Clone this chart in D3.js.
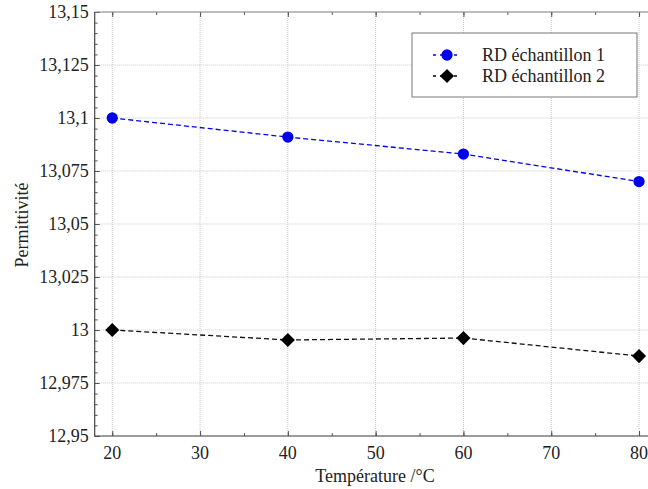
<!DOCTYPE html>
<html><head><meta charset="utf-8">
<script src="https://cdn.jsdelivr.net/npm/d3@7"></script>
<style>body{margin:0;background:#fff}svg{display:block}</style>
</head><body><svg id="c" width="648" height="489"></svg>
<script>
const temps = [20, 40, 60, 80];
const series1 = [13.1, 13.091, 13.083, 13.07];
const series2 = [13.0, 12.9953, 12.9962, 12.9877];
const seriesNames = ["RD échantillon 1", "RD échantillon 2"];
const xTicks = [20, 30, 40, 50, 60, 70, 80];
const yTicks = [12.95, 12.975, 13, 13.025, 13.05, 13.075, 13.1, 13.125, 13.15];
const yTickLabels = ["12,95", "12,975", "13", "13,025", "13,05", "13,075", "13,1", "13,125", "13,15"];

const FONT = "'Liberation Serif', 'Times New Roman', serif";
const svg = d3.select("#c");
const L = 94.7, R = 656.6, T = 12, B = 436;
const x = d3.scaleLinear().domain([18, 82]).range([L, R]);
const y = d3.scaleLinear().domain([12.95, 13.15]).range([B, T]);

const defs = svg.append("defs");
defs.append("clipPath").attr("id", "clip").append("rect").attr("x", L).attr("y", T - 8).attr("width", R - L).attr("height", B - T + 16);

// grid
const g = svg.append("g");
g.selectAll(".gx").data(xTicks).join("line")
  .attr("x1", d => x(d)).attr("x2", d => x(d)).attr("y1", T).attr("y2", B)
  .attr("stroke", "#c8c8c8").attr("stroke-width", 1).attr("stroke-dasharray", "1,1");
g.selectAll(".gy").data(yTicks).join("line")
  .attr("x1", L).attr("x2", R).attr("y1", d => y(d)).attr("y2", d => y(d))
  .attr("stroke", "#c8c8c8").attr("stroke-width", 1).attr("stroke-dasharray", "1,1");

// axes with inward ticks
const xMinor = d3.range(20, 81, 5);
const yMinor = d3.range(0, 41).map(i => 12.95 + i * 0.005);
function ticks(gen, tr, vals, size) {
  const a = svg.append("g").attr("transform", tr).call(gen.tickValues(vals).tickSize(size).tickFormat(""));
  a.select(".domain").remove();
  a.selectAll("line").attr("stroke", "#555");
}
ticks(d3.axisTop(x), `translate(0,${B})`, xMinor, 3);
ticks(d3.axisTop(x), `translate(0,${B})`, xTicks, 5);
ticks(d3.axisBottom(x), `translate(0,${T})`, xMinor, 3);
ticks(d3.axisBottom(x), `translate(0,${T})`, xTicks, 5);
ticks(d3.axisRight(y), `translate(${L},0)`, yMinor, 3);
ticks(d3.axisRight(y), `translate(${L},0)`, yTicks, 5);

// axis frame lines
svg.append("line").attr("x1", L).attr("x2", L).attr("y1", T).attr("y2", B).attr("stroke", "#444").attr("stroke-width", 1.2);
svg.append("line").attr("x1", L).attr("x2", 648).attr("y1", B).attr("y2", B).attr("stroke", "#444").attr("stroke-width", 1.2);
svg.append("line").attr("x1", L).attr("x2", 648).attr("y1", T).attr("y2", T).attr("stroke", "#888").attr("stroke-width", 1);

// tick labels
svg.selectAll(".xl").data(xTicks).join("text").attr("class", "xl")
  .attr("x", d => x(d)).attr("y", B + 23).attr("text-anchor", "middle")
  .attr("font-family", FONT).attr("font-size", 18).attr("fill", "#222").text(d => d);
svg.selectAll(".yl").data(yTicks).join("text").attr("class", "yl")
  .attr("x", L - 6).attr("y", d => y(d) + 6).attr("text-anchor", "end")
  .attr("font-family", FONT).attr("font-size", 18).attr("fill", "#222").text((d, i) => yTickLabels[i]);

// titles
svg.append("text").attr("x", 375).attr("y", 482).attr("text-anchor", "middle")
  .attr("font-family", FONT).attr("font-size", 18).attr("fill", "#222").text("Température /°C");
svg.append("text").attr("transform", "translate(28,225) rotate(-90)").attr("text-anchor", "middle")
  .attr("font-family", FONT).attr("font-size", 18).attr("fill", "#222").text("Permittivité");

// series
const line = d3.line().x(d => x(d[0])).y(d => y(d[1]));
const plot = svg.append("g").attr("clip-path", "url(#clip)");
const d1 = temps.map((t, i) => [t, series1[i]]);
const d2 = temps.map((t, i) => [t, series2[i]]);
plot.append("path").datum(d1).attr("d", line).attr("fill", "none").attr("stroke", "#0000ee").attr("stroke-width", 1.3).attr("stroke-dasharray", "5,3");
plot.append("path").datum(d2).attr("d", line).attr("fill", "none").attr("stroke", "#111").attr("stroke-width", 1.3).attr("stroke-dasharray", "5,3");
const circ = d3.symbol().type(d3.symbolCircle).size(100);
const diam = d3.symbol().type(d3.symbolSquare).size(100);
plot.selectAll(".p1").data(d1).join("path").attr("d", circ)
  .attr("transform", d => `translate(${x(d[0])},${y(d[1])})`).attr("fill", "#0000ee");
plot.selectAll(".p2").data(d2).join("path").attr("d", diam)
  .attr("transform", d => `translate(${x(d[0])},${y(d[1])}) rotate(45)`).attr("fill", "#000");

// legend
const lg = svg.append("g");
lg.append("rect").attr("x", 412).attr("y", 33).attr("width", 225).attr("height", 64).attr("fill", "#fff").attr("stroke", "#777").attr("stroke-width", 1);
const legItems = [{c: "#0000ee", sym: circ, rot: 0}, {c: "#000", sym: diam, rot: 45}];
legItems.forEach((it, i) => {
  const yy = 55 + i * 21;
  lg.append("line").attr("x1", 433).attr("x2", 461).attr("y1", yy).attr("y2", yy).attr("stroke", it.c).attr("stroke-width", 1.3).attr("stroke-dasharray", "3,4");
  lg.append("path").attr("d", it.sym).attr("transform", `translate(447,${yy}) rotate(${it.rot})`).attr("fill", it.c);
  lg.append("text").attr("x", 482).attr("y", yy + 6).attr("font-family", FONT).attr("font-size", 18).attr("fill", "#222").text(seriesNames[i]);
});
</script></body></html>
